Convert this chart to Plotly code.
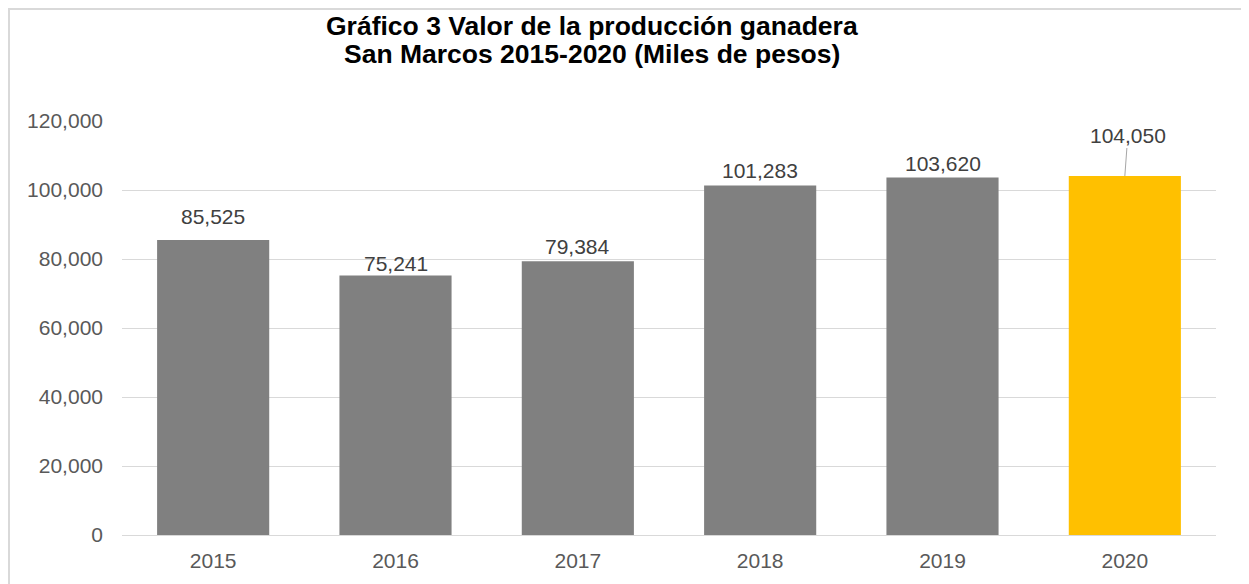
import plotly.graph_objects as go

years = ["2015", "2016", "2017", "2018", "2019", "2020"]
values = [85525, 75241, 79384, 101283, 103620, 104050]
bar_colors = ["#808080", "#808080", "#808080", "#808080", "#808080", "#FFC000"]
label_shift = [23, 12, 15, 15, 14]  # px above bar top for the first five labels

title1 = "Gráfico 3 Valor de la producción ganadera"
title2 = "San Marcos 2015-2020 (Miles de pesos)"

OFF = 8  # browser body margin
W, H = 1249 - OFF, 584 - OFF
L, T = 122 - OFF, 121 - OFF
R = W - (1216 - OFF)
B = H - (537 - OFF)
PW = W - L - R
PH = H - T - B

def px_x(px):
    return (px - OFF - L) / PW

def px_y(py):
    return (H - B - (py - OFF)) / PH

FONT = "Arial, Liberation Sans, sans-serif"

fig = go.Figure()
fig.add_trace(go.Bar(
    x=years, y=values, marker=dict(color=bar_colors, line=dict(width=0)),
    width=0.615, hoverinfo="x+y",
))

annotations = []
for i, (v, s) in enumerate(zip(values[:-1], label_shift)):
    annotations.append(dict(
        x=i, y=v, xref="x", yref="y", text=f"{v:,}", showarrow=False,
        yanchor="middle", yshift=s, font=dict(family=FONT, size=21, color="#404040"),
    ))
annotations.append(dict(
    x=len(values) - 1, y=values[-1], xref="x", yref="y", text=f"{values[-1]:,}",
    showarrow=True, arrowhead=0, arrowwidth=1, arrowcolor="#a6a6a6",
    ax=3, ay=-41, standoff=0, font=dict(family=FONT, size=21, color="#404040"),
))
annotations.append(dict(
    x=px_x(592), y=px_y(26), xref="paper", yref="paper", text=f"<b>{title1}</b>",
    showarrow=False, xanchor="center", yanchor="middle",
    font=dict(family=FONT, size=26.5, color="#000000"),
))
annotations.append(dict(
    x=px_x(592), y=px_y(53.5), xref="paper", yref="paper", text=f"<b>{title2}</b>",
    showarrow=False, xanchor="center", yanchor="middle",
    font=dict(family=FONT, size=26.5, color="#000000"),
))

fig.update_layout(
    width=W, height=H,
    margin=dict(l=L, r=R, t=T, b=B, pad=0),
    paper_bgcolor="white", plot_bgcolor="white",
    showlegend=False,
    annotations=annotations,
    shapes=[dict(
        type="rect", xref="paper", yref="paper",
        x0=px_x(9), x1=px_x(1243), y0=px_y(600), y1=px_y(8.5),
        line=dict(color="#d9d9d9", width=2), fillcolor="rgba(0,0,0,0)", layer="below",
    )],
    xaxis=dict(
        type="category", range=[-0.5, len(years) - 0.5], autorange=False,
        showgrid=False, showline=True, linecolor="#d9d9d9", linewidth=1,
        ticks="", tickfont=dict(family=FONT, size=21, color="#595959"),
        ticklabelstandoff=7,
    ),
    yaxis=dict(
        range=[0, 120000], autorange=False, dtick=20000, tickformat=",", showgrid=True,
        gridcolor="#d9d9d9", gridwidth=1, zeroline=False, showline=False,
        ticks="", tickfont=dict(family=FONT, size=21, color="#595959"),
        ticklabelstandoff=18,
    ),
)

fig.write_html("out.html")
